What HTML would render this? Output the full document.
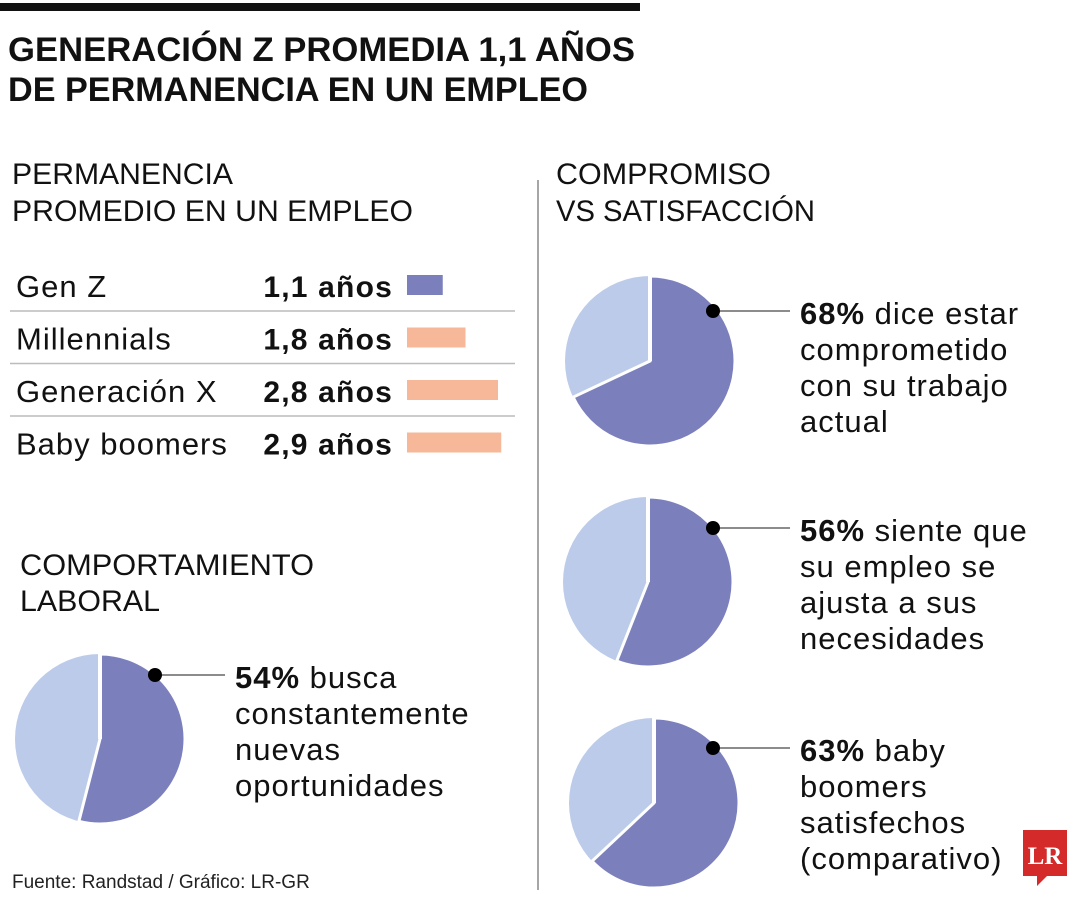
<!DOCTYPE html>
<html><head><meta charset="utf-8"><style>
html,body{margin:0;padding:0;background:#fff;}
svg{display:block;font-family:"Liberation Sans",sans-serif;}
.t{font-weight:bold;font-size:34px;fill:#111;}
.h{font-size:30px;fill:#111;}
.b{font-size:31px;fill:#111;letter-spacing:1px;}
.bb{font-weight:bold;font-size:30px;letter-spacing:1.2px;}
</style></head><body>
<svg id="chart" width="1080" height="900" viewBox="0 0 1080 900">
<rect x="0" y="3" width="640" height="8" fill="#111"/>
<text class="t" x="8" y="61" textLength="627" lengthAdjust="spacingAndGlyphs">GENERACIÓN Z PROMEDIA 1,1 AÑOS</text>
<text class="t" x="8" y="101" textLength="580" lengthAdjust="spacingAndGlyphs">DE PERMANENCIA EN UN EMPLEO</text>

<text class="h" x="12" y="184" textLength="221" lengthAdjust="spacingAndGlyphs">PERMANENCIA</text>
<text class="h" x="12" y="221" textLength="401" lengthAdjust="spacingAndGlyphs">PROMEDIO EN UN EMPLEO</text>

<g id="bars"></g>

<text class="h" x="20" y="575" textLength="294" lengthAdjust="spacingAndGlyphs">COMPORTAMIENTO</text>
<text class="h" x="20" y="611" textLength="140" lengthAdjust="spacingAndGlyphs">LABORAL</text>

<text class="h" x="556" y="184" textLength="215" lengthAdjust="spacingAndGlyphs">COMPROMISO</text>
<text class="h" x="556" y="221" textLength="259" lengthAdjust="spacingAndGlyphs">VS SATISFACCIÓN</text>

<line x1="538" y1="180" x2="538" y2="890" stroke="#888" stroke-width="1.5"/>

<g id="pies"></g>

<text x="12" y="888" font-size="19" fill="#222">Fuente: Randstad / Gráfico: LR-GR</text>

<g>
<path d="M1023 830 h44 v46 h-20 l-10 10 v-10 h-14 z" fill="#d42a2a"/>
<text x="1045" y="864" text-anchor="middle" font-family="Liberation Serif,serif" font-weight="bold" font-size="25" fill="#fff">LR</text>
</g>
</svg>
<script>
const groups = ["Gen Z","Millennials","Generación X","Baby boomers"];
const years = [1.1,1.8,2.8,2.9];
const yearLabels = ["1,1 años","1,8 años","2,8 años","2,9 años"];
const pieValues = [54,68,56,63];
const pieLabels = [
 ["busca","constantemente","nuevas","oportunidades"],
 ["dice estar","comprometido","con su trabajo","actual"],
 ["siente que","su empleo se","ajusta a sus","necesidades"],
 ["baby","boomers","satisfechos","(comparativo)"]
];
const NS="http://www.w3.org/2000/svg";
function mk(tag,attrs,parent){const e=document.createElementNS(NS,tag);for(const k in attrs)e.setAttribute(k,attrs[k]);parent.appendChild(e);return e;}
const barX = v => v*32.5;
const bg=document.getElementById('bars');
groups.forEach((g,i)=>{
  const base=297+i*52.5;
  const t=mk('text',{x:16,y:base,'class':'b'},bg);t.textContent=g;
  
  
  const v=mk('text',{x:393,y:base,'class':'b bb','text-anchor':'end'},bg);v.textContent=yearLabels[i];
  
  
  const r=mk('rect',{x:407,y:base-22,width:barX(years[i]),height:20,fill:i===0?'#7b80bd':'#f6b898'},bg);
  
  
  if(i<3){const l=mk('line',{x1:10,x2:515,y1:base+14,y2:base+14,stroke:'#bbb','stroke-width':1.5},bg);
  
  }
});
const pieGeo=[{cx:100,cy:739,tx:235,ty:688},{cx:650,cy:361,tx:800,ty:324},{cx:648,cy:582,tx:800,ty:541},{cx:654,cy:803,tx:800,ty:761}];
const pg=document.getElementById('pies');
pieValues.forEach((p,i)=>{
  const {cx,cy,tx,ty}=pieGeo[i];const r=85;
  const a=p/100*2*Math.PI;
  const ex=cx+r*Math.sin(a),ey=cy-r*Math.cos(a);
  const large=p>50?1:0;
  mk('circle',{cx,cy,r,fill:'#bccbe9'},pg);
  const s=mk('path',{d:`M${cx} ${cy} L${cx} ${cy-r} A${r} ${r} 0 ${large} 1 ${ex} ${ey} Z`,fill:'#7b80bd',stroke:'#fff','stroke-width':3,'stroke-linejoin':'miter'},pg);
  
  
  mk('line',{x1:cx,y1:cy,x2:cx,y2:cy-r,stroke:'#fff','stroke-width':4},pg);
  const dy=ty-13;
  const ddx=i===0?155:713;
  mk('line',{x1:ddx,y1:dy,x2:tx-10,y2:dy,stroke:'#666','stroke-width':1.5},pg);
  const d=mk('circle',{cx:ddx,cy:dy,r:7,fill:'#000'},pg);
  
  
  const t=mk('text',{x:tx,y:ty,'class':'b'},pg);
  
  
  pieLabels[i].forEach((ln,j)=>{
    if(j===0){const b=mk('tspan',{'font-weight':'bold'},t);b.textContent=p+'% ';const n=mk('tspan',{},t);n.textContent=ln;}
    else{const n=mk('tspan',{x:tx,dy:36},t);n.textContent=ln;}
  });
});
</script>
</body></html>
